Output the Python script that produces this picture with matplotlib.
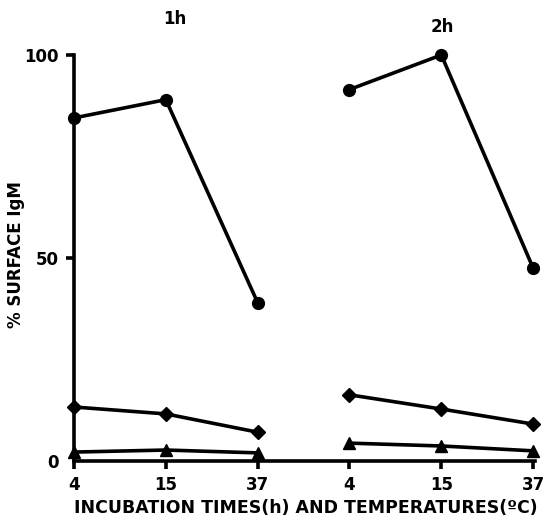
import matplotlib
matplotlib.use("Agg")
import matplotlib.pyplot as plt

tick_labels = ["4", "15", "37", "4", "15", "37"]
groups = ["1h", "2h"]
circles_1h = [84.5, 89, 39]
circles_2h = [91.5, 100, 47.5]
diamonds_1h = [13.3, 11.6, 7.1]
diamonds_2h = [16.3, 12.8, 9.1]
triangles_1h = [2.2, 2.7, 2.0]
triangles_2h = [4.4, 3.7, 2.5]

plt.rcParams['font.family'] = ['DejaVu Sans']
W, H = 544, 523
fig = plt.figure(figsize=(W / 100, H / 100), dpi=100)
ax = fig.add_axes([74 / W, 1 - 461 / H, (535 - 74) / W, (461 - 55) / H])

x1 = [0, 1, 2]
x2 = [3, 4, 5]
lw = 2.6
for xs, ys in [(x1, circles_1h), (x2, circles_2h)]:
    ax.plot(xs, ys, color='black', lw=lw, marker='o', ms=8.5, clip_on=False, zorder=3)
for xs, ys in [(x1, diamonds_1h), (x2, diamonds_2h)]:
    ax.plot(xs, ys, color='black', lw=lw, marker='D', ms=7, clip_on=False, zorder=3)
for xs, ys in [(x1, triangles_1h), (x2, triangles_2h)]:
    ax.plot(xs, ys, color='black', lw=lw, marker='^', ms=9, clip_on=False, zorder=3)

ax.set_xlim(0, 5.02)
ax.set_ylim(0, 100)
ax.set_xticks(range(6))
ax.set_xticklabels(tick_labels, fontsize=12, fontweight='bold')
ax.set_yticks([0, 50, 100])
ax.set_yticklabels(["0", "50", "100"], fontsize=12, fontweight='bold')
for s in ['top', 'right']:
    ax.spines[s].set_visible(False)
for s in ['left', 'bottom']:
    ax.spines[s].set_linewidth(2.6)
ax.tick_params(axis='both', width=2.6, length=6, pad=5)
ax.yaxis.get_major_ticks()[0].tick1line.set_visible(False)

fig.text(175 / W, 1 - 19 / H, groups[0], ha='center', va='center', fontsize=12, fontweight='bold')
fig.text(442 / W, 1 - 27 / H, groups[1], ha='center', va='center', fontsize=12, fontweight='bold')

fig.text(16 / W, 1 - 255 / H, "% SURFACE IgM", rotation=90, ha='center', va='center',
         fontsize=12, fontweight='bold')
fig.text(306 / W, 1 - 508 / H, "INCUBATION TIMES(h) AND TEMPERATURES(ºC)", ha='center', va='center',
         fontsize=12.5, fontweight='bold')

fig.savefig("out.png", dpi=100)
